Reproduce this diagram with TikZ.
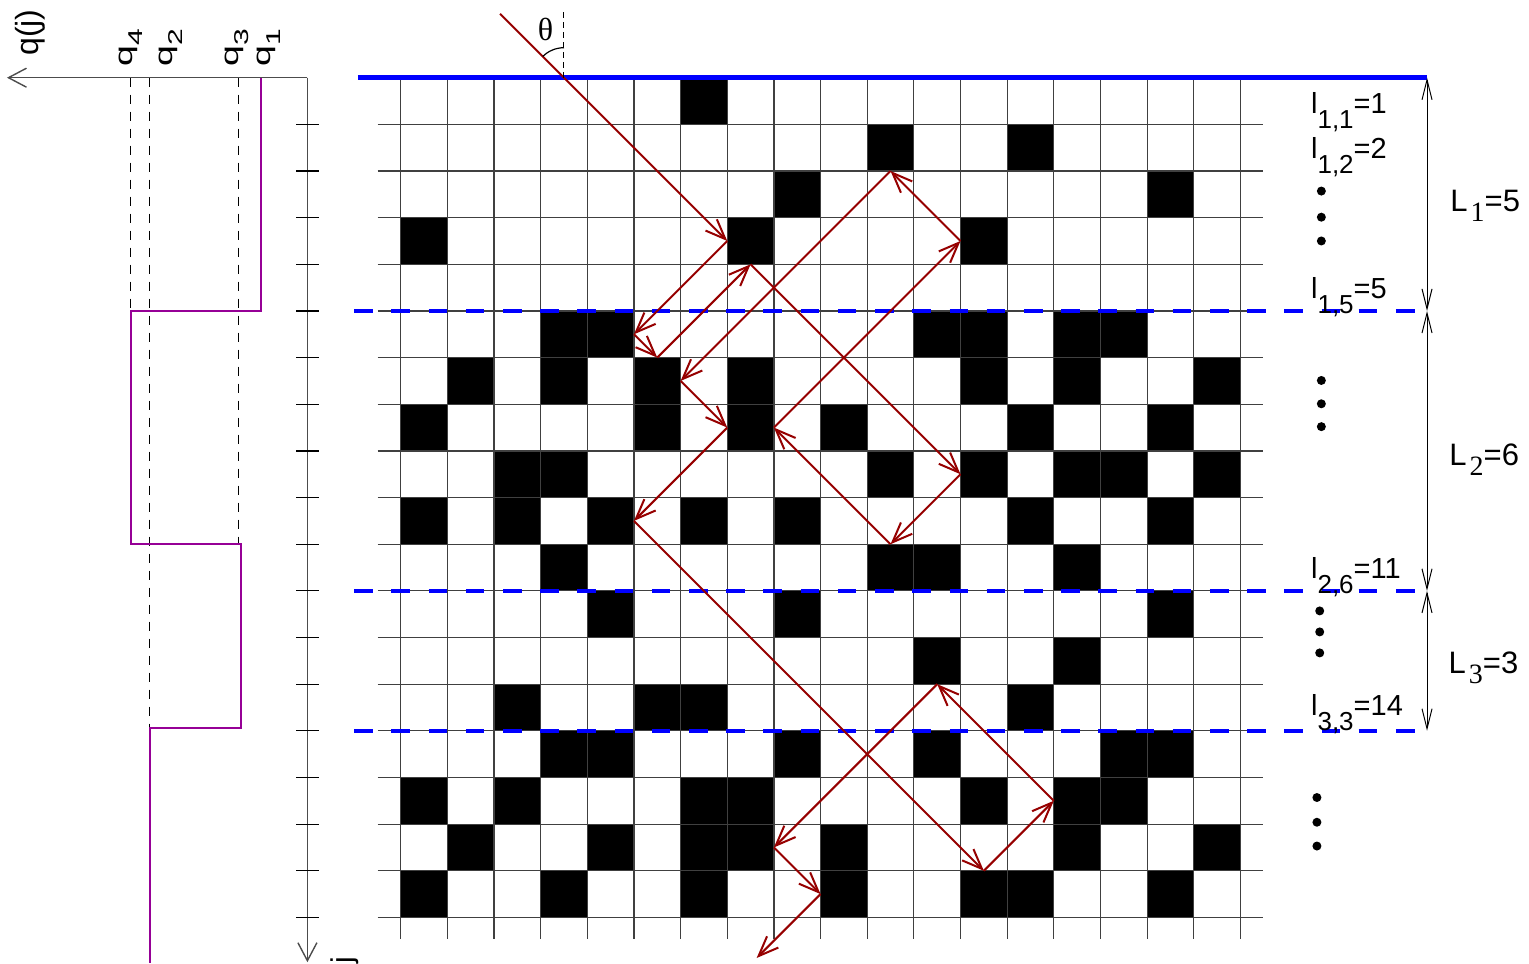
\documentclass[tikz,border=0pt]{standalone}
\usepackage{fontspec}
\setmainfont{Liberation Sans}
\newfontfamily\serifrm{Liberation Serif}
\usetikzlibrary{arrows.meta}
\definecolor{raycol}{RGB}{150,0,0}
\definecolor{prp}{RGB}{150,0,150}
\definecolor{bl}{RGB}{0,0,255}
\newcommand\llab[2]{l\raisebox{-7.5pt}{\fontsize{13}{14}\selectfont #1}=#2}
\newcommand\Llab[2]{L\hspace{1.5pt}\raisebox{-5pt}{\serifrm\fontsize{14}{15}\selectfont #1}=#2}
\newcommand\qlab[1]{\scalebox{1.5}[1]{q\raisebox{-5pt}{\fontsize{10}{11}\selectfont #1}}}
\begin{document}
\begin{tikzpicture}[x=0.5pt,y=-0.5pt,
  gridline/.style={black!75,line width=0.6pt},
  layerline/.style={bl,line width=2.2pt,dash pattern=on 9.3pt off 9.3pt},
  rayline/.style={raycol,line width=1pt,-{Straight Barb[length=10pt,width=8pt]}},
  dimline/.style={black,line width=0.5pt,{Straight Barb[length=10pt,width=5pt]}-{Straight Barb[length=10pt,width=5pt]}},
  axisline/.style={black!70,line width=0.7pt},
  qline/.style={black,line width=0.5pt,dash pattern=on 4.5pt off 4pt},
  dotnode/.style={circle,fill=black,inner sep=0pt,minimum size=4.5pt},
  lab/.style={inner sep=0pt,anchor=base west,font=\fontsize{14.5}{16}\selectfont},
  Lab/.style={inner sep=0pt,anchor=base west,font=\fontsize{15.5}{17}\selectfont},
  rlab/.style={rotate=90,anchor=base west,inner sep=0pt},
]
\useasboundingbox (0,0) rectangle (1529,963);

% ---------- left panel ----------
\draw[qline] (130.7,77.7) -- (130.7,311);
\draw[qline] (149.7,77.7) -- (149.7,728);
\draw[qline] (238,77.7) -- (238,544.2);
\draw[prp,line width=0.8pt] (261,77.7) -- (261,311) -- (130.7,311) -- (130.7,544.2)
  -- (240.7,544.2) -- (240.7,728) -- (149.7,728) -- (149.7,963);

\node[rlab,font=\fontsize{12.5}{14}\selectfont] (q4) at (132.3,66.7) {\qlab{4}};
\node[rlab,font=\fontsize{12.5}{14}\selectfont] (q2) at (172.3,66.7) {\qlab{2}};
\node[rlab,font=\fontsize{12.5}{14}\selectfont] (q3) at (238.6,66.7) {\qlab{3}};
\node[rlab,font=\fontsize{12.5}{14}\selectfont] (q1) at (270.6,66.7) {\qlab{1}};
\node[rlab,font=\fontsize{16}{18}\selectfont] (qj) at (38,56) {q(j)};
\node[rlab,font=\fontsize{15}{17}\selectfont] (jl) at (352,964) {j};

% ---------- grid ----------
\begin{scope}[shift={(400.7,77.7)},x=23.325pt,y=-23.325pt]
  \foreach \r/\cs in {0/{6},1/{10,13},2/{8,16},3/{0,7,12},
      5/{3,4,11,12,14,15},6/{1,3,5,7,12,14,17},7/{0,5,7,9,13,16},
      8/{2,3,10,12,14,15,17},9/{0,2,4,6,8,13,16},10/{3,10,11,14},
      11/{4,8,16},12/{11,14},13/{2,5,6,13},14/{3,4,8,11,15,16},
      15/{0,2,6,7,12,14,15},16/{1,4,6,7,9,14,17},17/{0,3,6,9,12,13,16}}
    {\foreach \c in \cs {\fill[black] (\c,\r) rectangle ++(1,1);}}
  \foreach \i in {1,...,18} \draw[gridline] (-0.493,\i) -- (18.48,\i);
  \foreach \j in {0,...,18} \draw[gridline] (\j,0) -- (\j,18.46);

  % axes of the left panel
  \coordinate (O) at (-2,0);
  \coordinate (QX) at (-8.44,0);
  \coordinate (JY) at (-2,18.96);
  \draw[axisline,-{Straight Barb[length=9pt,width=9.5pt]}] (O) -- (QX);
  \draw[axisline,-{Straight Barb[length=9pt,width=9.5pt]}] (O) -- (JY);
  \foreach \i in {1,...,18} \draw[black,line width=0.6pt] (-2.244,\i) -- (-1.745,\i);

  % layer boundaries
  \draw[bl,line width=2.2pt] (-0.917,0) -- (22,0);
  \foreach \v in {5,11,14} \draw[layerline] (-0.995,\v) -- (21.79,\v);

  % layer thickness arrows
  \coordinate (D0) at (22,0);
  \coordinate (D1) at (22,5);
  \coordinate (D2) at (22,11);
  \coordinate (D3) at (22,14);
  \draw[dimline] (D0) -- (D1);
  \draw[dimline] (D1) -- (D2);
  \draw[dimline] (D2) -- (D3);

  % dots
  \foreach \v in {2.43,2.99,3.50,6.49,6.99,7.48} \node[dotnode] at (19.735,\v) {};
  \foreach \v in {11.43,11.88,12.33} \node[dotnode] at (19.70,\v) {};
  \foreach \v in {15.43,15.96,16.47} \node[dotnode] at (19.64,\v) {};

  % ray path
  \coordinate (P0) at (2.13,-1.37);
  \coordinate (E) at (3.5,0);
  \coordinate (P1) at (7,3.5);
  \coordinate (P2) at (5,5.5);
  \coordinate (P3) at (5.5,6);
  \coordinate (P4) at (7.5,4);
  \coordinate (P5) at (12,8.5);
  \coordinate (P6) at (10.5,10);
  \coordinate (P7) at (8,7.5);
  \coordinate (P8) at (12,3.5);
  \coordinate (P9) at (10.5,2);
  \coordinate (P10) at (6,6.5);
  \coordinate (P11) at (7,7.5);
  \coordinate (P12) at (5,9.5);
  \coordinate (P13) at (12.5,17);
  \coordinate (P14) at (14,15.5);
  \coordinate (P15) at (11.5,13);
  \coordinate (P16) at (8,16.5);
  \coordinate (P17) at (9,17.5);
  \coordinate (P18) at (7.63,18.87);
  \foreach \a/\b in {P0/P1,P1/P2,P2/P3,P3/P4,P4/P5,P5/P6,P6/P7,P7/P8,P8/P9,
      P9/P10,P10/P11,P11/P12,P12/P13,P13/P14,P14/P15,P15/P16,P16/P17,P17/P18}
    \draw[rayline] (\a) -- (\b);

  % incidence angle
  \coordinate (ET) at (3.5,-1.451);
  \draw[black,line width=0.5pt,dash pattern=on 3pt off 2pt] (E) -- (ET);
  \draw[black,line width=0.6pt] (E) ++(90:15pt) arc[start angle=90,end angle=135,radius=15pt];
  \node[font=\serifrm\fontsize{16}{18}\selectfont,inner sep=0pt] (th) at (3.104,-1.044) {θ};
\end{scope}

% ---------- labels ----------
\node[lab] (l11) at (1310.7,113) {\llab{1,1}{1}};
\node[lab] (l12) at (1310.7,158.3) {\llab{1,2}{2}};
\node[lab] (l15) at (1310.7,298.3) {\llab{1,5}{5}};
\node[lab] (l26) at (1310.7,578.3) {\llab{2,6}{11}};
\node[lab] (l33) at (1310.7,715) {\llab{3,3}{14}};
\node[Lab] (L1) at (1450,211.7) {\Llab{1}{5}};
\node[Lab] (L2) at (1449,465) {\Llab{2}{6}};
\node[Lab] (L3) at (1448.3,673.3) {\Llab{3}{3}};
\end{tikzpicture}
\end{document}
